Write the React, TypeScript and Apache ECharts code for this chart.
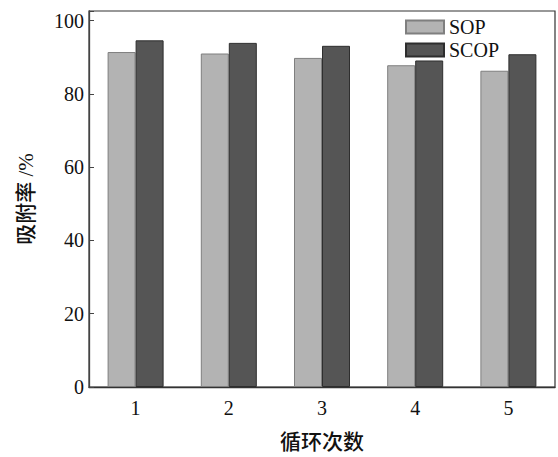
import React, { useEffect, useRef } from "react";
import * as echarts from "echarts";

const categories = ["1", "2", "3", "4", "5"];
const sopValues = [91.4, 91.0, 89.8, 87.8, 86.3];
const scopValues = [94.6, 93.9, 93.1, 89.1, 90.8];
const seriesNames = ["SOP", "SCOP"];
const yTicks = [0, 20, 40, 60, 80, 100];

const FONT = "'Liberation Serif', 'Noto Sans CJK SC', serif";

export default function App() {
  const ref = useRef<HTMLDivElement>(null);
  useEffect(() => {
    document.body.style.margin = "0";
    if (!ref.current) return;
    const chart = echarts.init(ref.current, null, { renderer: "svg" });
    chart.setOption({
      animation: false,
      backgroundColor: "#ffffff",
      grid: {
        left: 89,
        right: 3,
        top: 11,
        bottom: 68,
        show: true,
        borderColor: "#333333",
        borderWidth: 1.2,
        containLabel: false,
      },
      legend: {
        orient: "vertical",
        left: 405,
        top: 17,
        padding: 0,
        itemWidth: 38,
        itemHeight: 13,
        itemGap: 3,
        icon: "rect",
        textStyle: { fontFamily: FONT, fontSize: 20, color: "#111", lineHeight: 19, padding: 0 },
        data: seriesNames,
      },
      xAxis: {
        type: "category",
        data: categories,
        boundaryGap: true,
        axisLine: { show: true, lineStyle: { color: "#333333", width: 1.3 } },
        axisTick: { show: false },
        axisLabel: { fontFamily: FONT, fontSize: 20, color: "#111", margin: 11 },
        name: "循环次数",
        nameLocation: "middle",
        nameGap: 44,
        nameTextStyle: { fontFamily: FONT, fontSize: 21, color: "#111", fontWeight: 500 },
      },
      yAxis: {
        type: "value",
        min: 0,
        max: 102.6,
        interval: 20,
        splitLine: { show: false },
        axisLine: { show: true, lineStyle: { color: "#444444", width: 1.3 } },
        axisTick: { show: true, inside: true, length: 5, lineStyle: { color: "#444444" } },
        axisLabel: {
          fontFamily: FONT,
          fontSize: 20,
          color: "#111",
          margin: 5,
          formatter: (v: number) => (yTicks.includes(Math.round(v * 1000) / 1000) ? String(v) : ""),
        },
        name: "吸附率 /%",
        nameLocation: "middle",
        nameGap: 53,
        nameRotate: 90,
        nameTextStyle: { fontFamily: FONT, fontSize: 21, color: "#111", fontWeight: 500 },
      },
      series: [
        {
          name: seriesNames[0],
          type: "bar",
          data: sopValues,
          barWidth: 28,
          barGap: "0%",
          itemStyle: { color: "#b3b3b3", borderColor: "#7f7f7f", borderWidth: 1 },
        },
        {
          name: seriesNames[1],
          type: "bar",
          data: scopValues,
          barWidth: 28,
          barGap: "0%",
          itemStyle: { color: "#555555", borderColor: "#2e2e2e", borderWidth: 1 },
        },
      ],
    });
    return () => chart.dispose();
  }, []);
  return <div ref={ref} style={{ width: 558, height: 457 }} />;
}
